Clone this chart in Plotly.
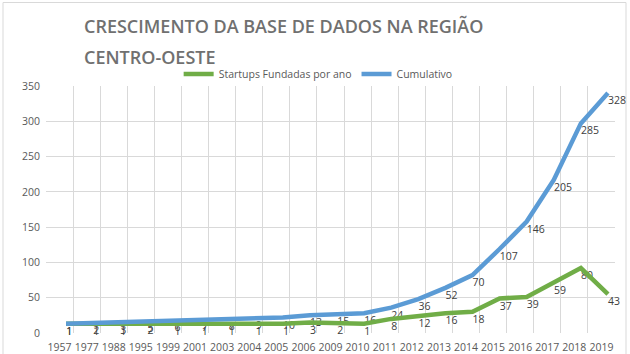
import plotly.graph_objects as go

years = ["1957", "1977", "1988", "1995", "1999", "2001", "2003", "2004", "2005", "2006",
         "2009", "2010", "2011", "2012", "2013", "2014", "2015", "2016", "2017", "2018", "2019"]
startups = [1, 1, 1, 2, 1, 1, 1, 1, 1, 3, 2, 1, 8, 12, 16, 18, 37, 39, 59, 80, 43]
cumulativo = [1, 2, 3, 5, 6, 7, 8, 9, 10, 13, 15, 16, 24, 36, 52, 70, 107, 146, 205, 285, 328]

title_lines = ["CRESCIMENTO DA BASE DE DADOS NA REGIÃO", "CENTRO-OESTE"]
name_startups = "Startups Fundadas por ano"
name_cum = "Cumulativo"

GREEN = "#70AD47"
BLUE = "#5B9BD5"
GRID = "#D9D9D9"
TXT = "#595959"
LBL = "#404040"
FONT = "Open Sans, sans-serif"

# the drawn lines in the reference sit slightly right/up of the labelled points
shift_cat = 0.24
shift_val = 12

fig = go.Figure()

fig.add_trace(go.Scatter(x=years, y=startups, mode="lines", name=name_startups,
                         line=dict(color=GREEN, width=4.5), xaxis="x2", yaxis="y2",
                         hoverinfo="skip"))
fig.add_trace(go.Scatter(x=years, y=cumulativo, mode="lines", name=name_cum,
                         line=dict(color=BLUE, width=4.5), xaxis="x2", yaxis="y2",
                         hoverinfo="skip"))

for vals in (startups, cumulativo):
    fig.add_trace(go.Scatter(x=years, y=vals, mode="markers+text", text=[str(v) for v in vals],
                             textposition="middle right", showlegend=False, cliponaxis=False,
                             marker=dict(size=9, color="rgba(0,0,0,0)"),
                             textfont=dict(family=FONT, size=10.5, color=LBL),
                             hoverinfo="skip"))

n = len(years)
fig.update_layout(
    template="none",
    width=630, height=354,
    margin=dict(l=46, r=15, t=86, b=21, autoexpand=False),
    paper_bgcolor="white", plot_bgcolor="white",
    font=dict(family=FONT, color=TXT),
    showlegend=True,
    legend=dict(orientation="h", xref="container", yref="container",
                x=0.505, xanchor="center", y=1 - 74 / 354, yanchor="middle",
                font=dict(family=FONT, size=10.5, color=TXT),
                itemwidth=30, bgcolor="rgba(0,0,0,0)"),
    xaxis=dict(type="category", categoryorder="array", categoryarray=years,
               range=[-0.5, n - 0.5], tickson="boundaries", showgrid=True,
               gridcolor=GRID, gridwidth=1, ticks="", showline=False, zeroline=False,
               automargin=False, ticklabelstandoff=6,
               tickfont=dict(family=FONT, size=10.5, color=TXT), tickangle=0),
    yaxis=dict(range=[0, 350], dtick=50, showgrid=True, gridcolor=GRID, gridwidth=1,
               zeroline=False, showline=False, ticks="", ticklabelstandoff=5,
               automargin=False,
               tickfont=dict(family=FONT, size=10.5, color=TXT)),
    xaxis2=dict(type="category", categoryorder="array", categoryarray=years,
                overlaying="x", range=[-0.5 - shift_cat, n - 0.5 - shift_cat],
                visible=False, showgrid=False),
    yaxis2=dict(overlaying="y", range=[0 - shift_val, 350 - shift_val],
                visible=False, showgrid=False),
)

TFONT = dict(family="Open Sans, sans-serif", size=18, color="#707070", weight=600)
fig.add_annotation(text=title_lines[0], xref="paper", yref="paper",
                   x=(82 - 46) / 569, xanchor="left", y=(333 - 26) / 247, yanchor="middle",
                   showarrow=False, font=TFONT)
fig.add_annotation(text=title_lines[1], xref="paper", yref="paper",
                   x=(82 - 46) / 569, xanchor="left", y=(333 - 57) / 247, yanchor="middle",
                   showarrow=False, font=TFONT)

# chart frame
fig.add_shape(type="rect", xref="paper", yref="paper",
              x0=(3 - 46) / 569, x1=(626 - 46) / 569, y0=(333 - 360) / 247, y1=(333 - 2.5) / 247,
              line=dict(color=GRID, width=1), fillcolor="rgba(0,0,0,0)", layer="below")

fig.write_html("out.html")
